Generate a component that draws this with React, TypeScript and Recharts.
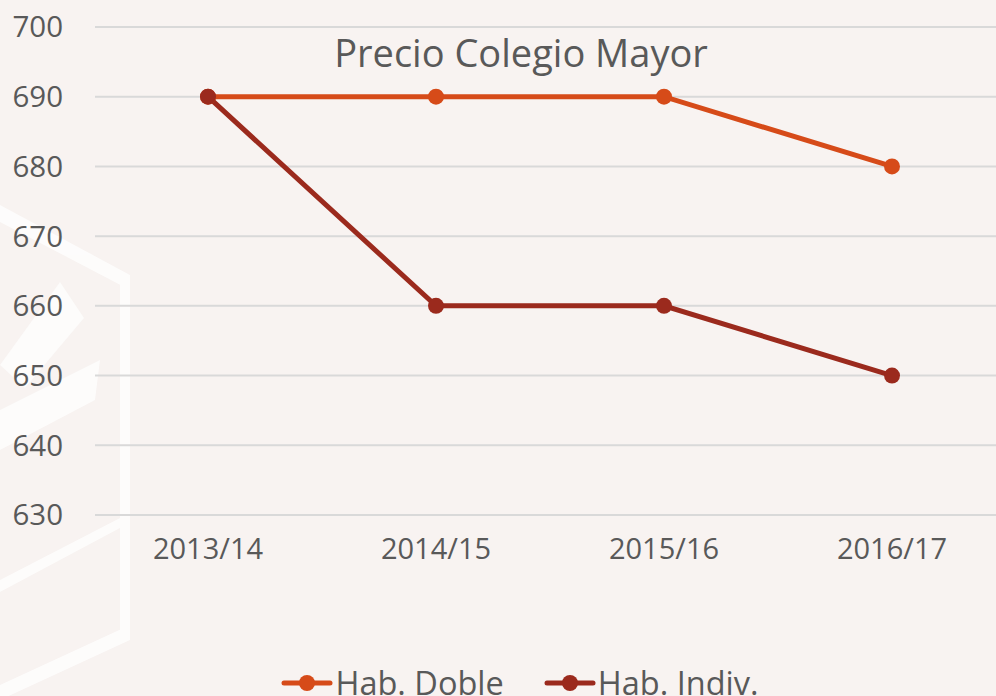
import React from 'react';
import { LineChart, Line, XAxis, YAxis, CartesianGrid, Legend } from 'recharts';

const cursos = ['2013/14', '2014/15', '2015/16', '2016/17'];
const habDoble = [690, 690, 690, 680];
const habIndiv = [690, 660, 660, 650];
const yTicks = [630, 640, 650, 660, 670, 680, 690, 700];

const data = cursos.map((curso, i) => ({
  curso,
  doble: habDoble[i],
  indiv: habIndiv[i],
}));

const FONT = '"Open Sans", "DejaVu Sans", sans-serif';
const TEXT = '#595959';
const ORANGE = '#d64b19';
const DARKRED = '#9b2a1d';

const LegendContent = ({ payload }: any) => (
  <div style={{ display: 'flex', justifyContent: 'center', gap: 40, fontFamily: FONT, fontSize: 32.5, color: TEXT, lineHeight: '44px', paddingLeft: 44 }}>
    {(payload || []).map((p: any) => (
      <div key={p.value} style={{ display: 'flex', alignItems: 'center' }}>
        <svg width={52} height={20} style={{ marginRight: 2 }}>
          <line x1={3} y1={10} x2={49} y2={10} stroke={p.color} strokeWidth={5} strokeLinecap="round" />
          <circle cx={26} cy={10} r={8} fill={p.color} />
        </svg>
        <span>{p.value}</span>
      </div>
    ))}
  </div>
);

export default function App() {
  return (
    <div style={{ position: 'fixed', left: 0, top: 0, width: 996, height: 696, background: '#f8f3f1', overflow: 'hidden' }}>
      <svg width={996} height={696} style={{ position: 'absolute', left: 0, top: 0 }}>
        <g fill="#ffffff" opacity={0.75}>
          <polygon points="0,205 130,275 130,290 0,222" />
          <polygon points="120,280 130,280 130,632 120,632" />
          <polygon points="130,625 130,640 0,700 0,685" />
          <polygon points="0,580 120,518 120,528 0,592" />
          <polygon points="60,282 84,318 25,388 0,365" />
          <polygon points="0,410 100,360 95,400 0,450" />
        </g>
      </svg>
      <LineChart
        width={996}
        height={696}
        data={data}
        margin={{ top: 27, right: 0, left: 0, bottom: 0 }}
        style={{ position: 'absolute', left: 0, top: 0 }}
      >
        <CartesianGrid vertical={false} stroke="#d9d9d9" strokeWidth={2} />
        <XAxis
          dataKey="curso"
          axisLine={false}
          tickLine={false}
          tickSize={0}
          tickMargin={23}
          height={137}
          padding={{ left: 113, right: 104 }}
          tick={{ fontSize: 29, fill: TEXT, fontFamily: FONT }}
        />
        <YAxis
          domain={[630, 700]}
          ticks={yTicks}
          axisLine={false}
          tickLine={false}
          tickSize={0}
          tickMargin={32}
          width={95}
          tick={{ fontSize: 29.5, fill: TEXT, fontFamily: FONT }}
        />
        <Legend
          content={<LegendContent />}
          wrapperStyle={{ position: 'absolute', top: 661, left: 0, width: 996, bottom: 'auto' }}
        />
        <Line
          name="Hab. Doble"
          dataKey="doble"
          stroke={ORANGE}
          strokeWidth={5}
          dot={{ r: 8, fill: ORANGE, stroke: ORANGE, strokeWidth: 0 }}
          isAnimationActive={false}
        />
        <Line
          name="Hab. Indiv."
          dataKey="indiv"
          stroke={DARKRED}
          strokeWidth={5}
          dot={{ r: 8, fill: DARKRED, stroke: DARKRED, strokeWidth: 0 }}
          isAnimationActive={false}
        />
        <text x={521} y={67} textAnchor="middle" fontSize={38} fill={TEXT} fontFamily={FONT}>
          Precio Colegio Mayor
        </text>
      </LineChart>
    </div>
  );
}
